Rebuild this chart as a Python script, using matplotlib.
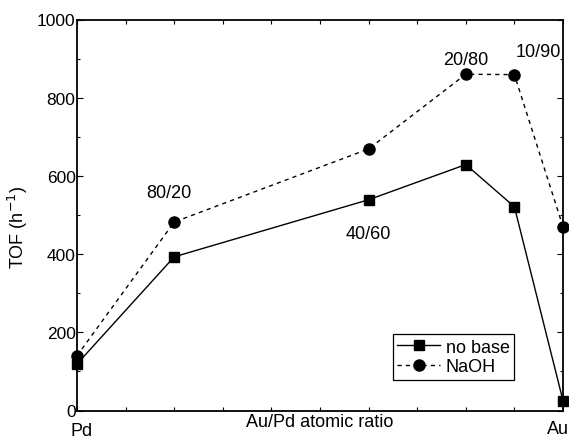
import matplotlib.pyplot as plt
from matplotlib.ticker import MultipleLocator

plt.rcParams.update({
    "font.family": ["Liberation Sans", "DejaVu Sans"],
    "font.size": 12.5,
    "axes.linewidth": 1.3,
    "xtick.direction": "in",
    "ytick.direction": "in",
})

# Au content (at.%) -> Pd ... Au
au_pct = [0, 20, 60, 80, 90, 100]
tof_no_base = [119, 393, 539, 629, 521, 25]
tof_naoh = [140, 482, 669, 860, 859, 470]

ratio_labels = ["80/20", "40/60", "20/80", "10/90"]
ratio_label_x = [19, 60, 80, 95]
ratio_label_y = [558, 452, 898, 918]

fig = plt.figure(figsize=(5.69, 4.39), dpi=100)
ax = fig.add_axes([77 / 569, 1 - 411.5 / 439, 486 / 569, 391 / 439])

ax.plot(au_pct, tof_no_base, color="black", lw=1.0, marker="s",
        markersize=6.5, label="no base", clip_on=False, zorder=3)
ax.plot(au_pct, tof_naoh, color="black", lw=1.0, ls=(0, (3, 3)), marker="o",
        markersize=8, label="NaOH", clip_on=False, zorder=3)

for lab, x, y in zip(ratio_labels, ratio_label_x, ratio_label_y):
    ax.text(x, y, lab, ha="center", va="center", fontsize=13)

ax.set_xlim(0, 100)
ax.set_ylim(0, 1000)
ax.xaxis.set_major_locator(MultipleLocator(10))
ax.set_xticklabels([])
ax.yaxis.set_major_locator(MultipleLocator(200))
ax.yaxis.set_minor_locator(MultipleLocator(100))
ax.tick_params(axis="both", which="both", top=True, right=True,
               width=0.8, labelsize=12.5)
ax.tick_params(axis="x", which="major", length=3, pad=2)
ax.tick_params(axis="y", which="major", length=4, pad=1)
ax.tick_params(axis="y", which="minor", length=2.5)

# end-member labels under the axis
fig.text(82 / 569, 1 - 432 / 439, "Pd", ha="center", va="center", fontsize=13)
fig.text(1.0, 1 - 430 / 439, "Au", ha="right", va="center", fontsize=13)

ax.set_xlabel("Au/Pd atomic ratio", fontsize=13, labelpad=0)
ax.set_ylabel("TOF (h$^{-1}$)", fontsize=13)
ax.yaxis.set_label_coords(-0.097, 0.47)

leg = ax.legend(loc="lower right", bbox_to_anchor=(0.9, 0.078),
                borderaxespad=0, fancybox=False, edgecolor="black",
                framealpha=1, fontsize=13, handlelength=2.4,
                handletextpad=0.3, borderpad=0.25, labelspacing=0.15)
leg.get_frame().set_linewidth(0.9)

fig.savefig("out.png", dpi=100, facecolor="white")
